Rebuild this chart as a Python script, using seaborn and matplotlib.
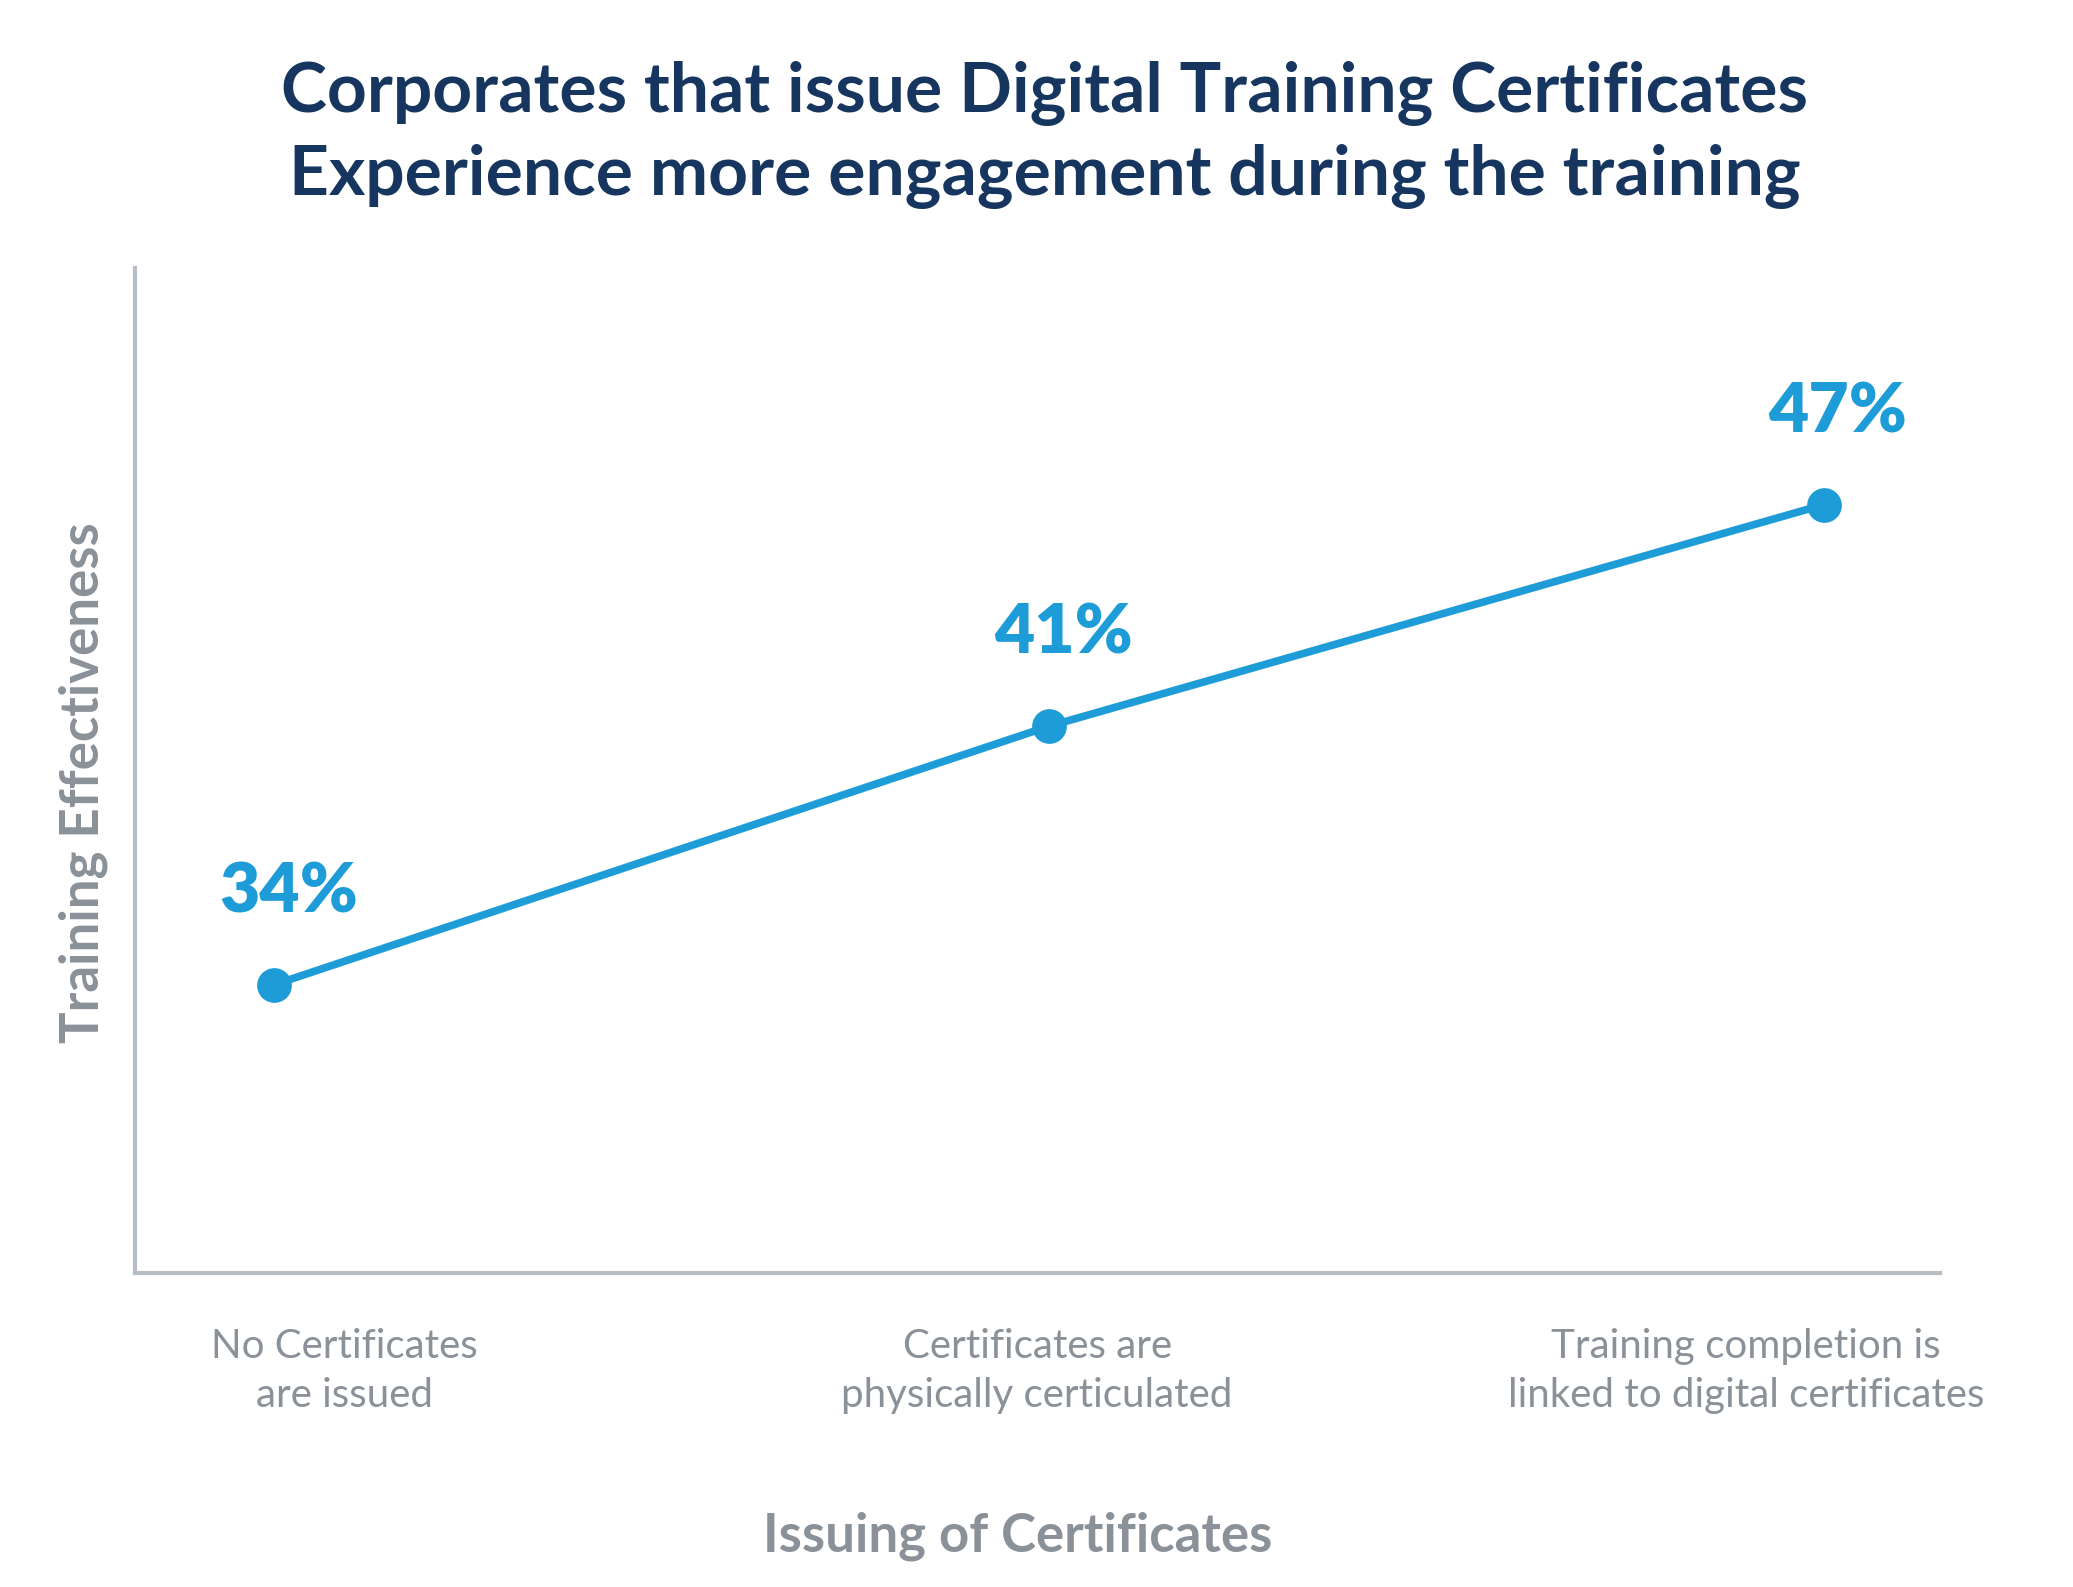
import pandas as pd
import seaborn as sns
import matplotlib.pyplot as plt
import matplotlib.transforms as mtransforms

# Data
categories = ["No Certificates\nare issued",
              "Certificates are\nphysically certiculated",
              "Training completion is\nlinked to digital certificates"]
effectiveness = [34, 41, 47]
value_labels = ["34%", "41%", "47%"]

df = pd.DataFrame({"x": range(len(categories)), "y": effectiveness})

sns.set_theme(style="white")
plt.rcParams["font.family"] = ["Lato", "DejaVu Sans"]

blue = "#1E9CD7"
navy = "#16365F"
grey = "#8A9199"
spine_c = "#B8BEC5"

fig = plt.figure(figsize=(20.73, 15.87), dpi=100)
ax = fig.add_axes([0.065, 0.198, 0.871, 0.633])

sns.lineplot(data=df, x="x", y="y", ax=ax, color=blue, linewidth=5.5,
             marker="o", markersize=25, markeredgewidth=0)

for xi, yi, lab in zip(df["x"], df["y"], value_labels):
    ax.annotate(lab, (xi, yi), xytext=(14, 92), textcoords="offset pixels",
                ha="center", va="center", fontsize=50, fontweight="heavy",
                color=blue)

ax.set_xlim(-0.18, 2.15)
ax.set_ylim(26.2, 53.4)
ax.set_yticks([])
ax.set_xticks(range(len(categories)))
ax.set_xticklabels(categories, fontsize=29, color=grey, linespacing=1.4)
ax.tick_params(axis="x", length=0, pad=40)
# tick labels sit a little off the points in the original
shifts = [0.70, -0.12, -0.78]
for lbl, dx in zip(ax.get_xticklabels(), shifts):
    lbl.set_transform(lbl.get_transform() +
                      mtransforms.ScaledTranslation(dx, 0, fig.dpi_scale_trans))
ax.set_xlabel("")
ax.set_ylabel("")

for s in ["top", "right"]:
    ax.spines[s].set_visible(False)
for s in ["left", "bottom"]:
    ax.spines[s].set_color(spine_c)
    ax.spines[s].set_linewidth(3)

fig.text(0.504, 0.941, "Corporates that issue Digital Training Certificates",
         ha="center", va="center", fontsize=50, fontweight="bold", color=navy)
fig.text(0.504, 0.889, "Experience more engagement during the training",
         ha="center", va="center", fontsize=50, fontweight="bold", color=navy)
fig.text(0.491, 0.032, "Issuing of Certificates", ha="center", va="center",
         fontsize=38, fontweight="bold", color=grey)
fig.text(0.040, 0.507, "Training Effectiveness", ha="center", va="center",
         rotation=90, fontsize=38, fontweight="bold", color=grey)

fig.savefig("out.png", dpi=100, facecolor="white")
